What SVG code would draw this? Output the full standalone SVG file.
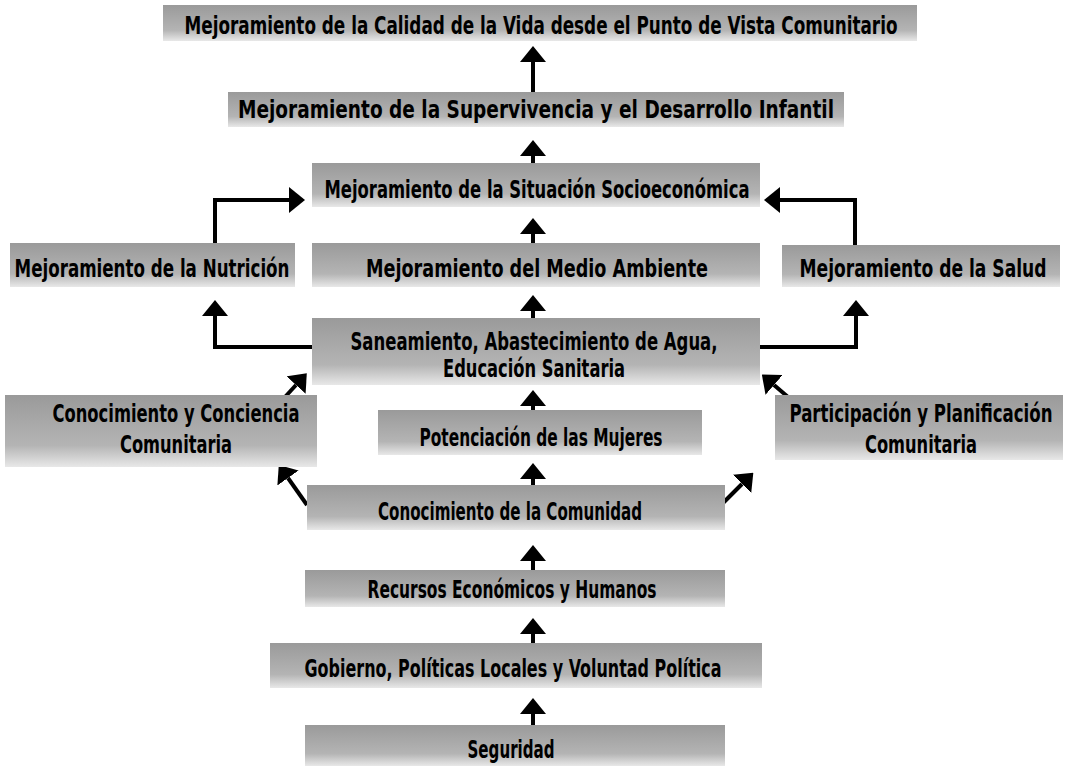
<svg xmlns="http://www.w3.org/2000/svg" width="1070" height="766" viewBox="0 0 1070 766">
<style>
.box{fill:url(#g)}
.t{font-family:"DejaVu Sans Condensed","DejaVu Sans","Liberation Sans",sans-serif;font-stretch:condensed;font-weight:bold;fill:#000;text-anchor:middle;font-size:25px}
.c{fill:none;stroke:#000;stroke-width:4}
</style>
<defs>
<linearGradient id="g" x1="0" y1="0" x2="0" y2="1">
<stop offset="0" stop-color="#9a9a9a"/>
<stop offset="0.7" stop-color="#b4b4b4"/>
<stop offset="1" stop-color="#e8e8e8"/>
</linearGradient>
<marker id="ah" markerUnits="userSpaceOnUse" markerWidth="16" markerHeight="26" refX="0" refY="13" orient="auto" viewBox="0 0 16 26">
<path d="M0,0 L16,13 L0,26 z" fill="#000"/>
</marker>
</defs>
<rect width="1070" height="766" fill="#fff"/>
<g id="connectors">
<path class="c" marker-end="url(#ah)" d="M533,92 L533,62"/>
<path class="c" marker-end="url(#ah)" d="M533,163 L533,156"/>
<path class="c" marker-end="url(#ah)" d="M533,243 L533,234"/>
<path class="c" marker-end="url(#ah)" d="M533,318 L533,311"/>
<path class="c" marker-end="url(#ah)" d="M533,410 L533,406"/>
<path class="c" marker-end="url(#ah)" d="M533,485 L533,479"/>
<path class="c" marker-end="url(#ah)" d="M533,570 L533,561"/>
<path class="c" marker-end="url(#ah)" d="M533,643 L533,634"/>
<path class="c" marker-end="url(#ah)" d="M533,725 L533,714"/>
<path class="c" marker-end="url(#ah)" d="M215,243 L215,200 L289,200"/>
<path class="c" marker-end="url(#ah)" d="M855,245 L855,200 L780,200"/>
<path class="c" marker-end="url(#ah)" d="M312,347 L215,347 L215,316"/>
<path class="c" marker-end="url(#ah)" d="M760,347 L856,347 L856,316"/>
<path class="c" marker-end="url(#ah)" d="M285,397 L296,385"/>
<path class="c" marker-end="url(#ah)" d="M788,397 L774,385"/>
<path class="c" marker-end="url(#ah)" d="M307,505 L288,478"/>
<path class="c" marker-end="url(#ah)" d="M723,503 L742,484"/>
</g>
<g id="n1"><rect class="box" x="163" y="5" width="754" height="36"/><text class="t" x="541" y="34" font-size="22" textLength="713" lengthAdjust="spacingAndGlyphs">Mejoramiento de la Calidad de la Vida desde el Punto de Vista Comunitario</text></g>
<g id="n2"><rect class="box" x="228" y="92" width="616" height="35"/><text class="t" x="536" y="118" font-size="24" textLength="596" lengthAdjust="spacingAndGlyphs">Mejoramiento de la Supervivencia y el Desarrollo Infantil</text></g>
<g id="n3"><rect class="box" x="312" y="163" width="448" height="44"/><text class="t" x="537" y="198" font-size="27" textLength="425" lengthAdjust="spacingAndGlyphs">Mejoramiento de la Situación Socioeconómica</text></g>
<g id="n4"><rect class="box" x="10" y="243" width="285" height="44"/><text class="t" x="152" y="277" font-size="26" textLength="275" lengthAdjust="spacingAndGlyphs">Mejoramiento de la Nutrición</text></g>
<g id="n5"><rect class="box" x="312" y="243" width="448" height="44"/><text class="t" x="537" y="277" font-size="26" textLength="342" lengthAdjust="spacingAndGlyphs">Mejoramiento del Medio Ambiente</text></g>
<g id="n6"><rect class="box" x="782" y="245" width="278" height="42"/><text class="t" x="923" y="277" font-size="26" textLength="247" lengthAdjust="spacingAndGlyphs">Mejoramiento de la Salud</text></g>
<g id="n7"><rect class="box" x="312" y="318" width="448" height="67"/><text class="t" x="534" y="350" font-size="24" textLength="367" lengthAdjust="spacingAndGlyphs">Saneamiento, Abastecimiento de Agua,</text><text class="t" x="534" y="377" font-size="24" textLength="182" lengthAdjust="spacingAndGlyphs">Educación Sanitaria</text></g>
<g id="n8"><rect class="box" x="5" y="395" width="312" height="72"/><text class="t" x="176" y="422" font-size="25" textLength="247" lengthAdjust="spacingAndGlyphs">Conocimiento y Conciencia</text><text class="t" x="176" y="453" font-size="25" textLength="112" lengthAdjust="spacingAndGlyphs">Comunitaria</text></g>
<g id="n9"><rect class="box" x="378" y="410" width="324" height="45"/><text class="t" x="541" y="446" font-size="25" textLength="243" lengthAdjust="spacingAndGlyphs">Potenciación de las Mujeres</text></g>
<g id="n10"><rect class="box" x="775" y="395" width="288" height="65"/><text class="t" x="921" y="422" font-size="25" textLength="263" lengthAdjust="spacingAndGlyphs">Participación y Planificación</text><text class="t" x="921" y="453" font-size="25" textLength="112" lengthAdjust="spacingAndGlyphs">Comunitaria</text></g>
<g id="n11"><rect class="box" x="307" y="485" width="418" height="45"/><text class="t" x="510" y="520" font-size="27" textLength="264" lengthAdjust="spacingAndGlyphs">Conocimiento de la Comunidad</text></g>
<g id="n12"><rect class="box" x="305" y="570" width="420" height="37"/><text class="t" x="512" y="598" font-size="26" textLength="289" lengthAdjust="spacingAndGlyphs">Recursos Económicos y Humanos</text></g>
<g id="n13"><rect class="box" x="270" y="643" width="492" height="45"/><text class="t" x="513" y="677" font-size="28" textLength="417" lengthAdjust="spacingAndGlyphs">Gobierno, Políticas  Locales y Voluntad Política</text></g>
<g id="n14"><rect class="box" x="305" y="725" width="420" height="41"/><text class="t" x="511" y="758" font-size="27" textLength="87" lengthAdjust="spacingAndGlyphs">Seguridad</text></g>
</svg>
